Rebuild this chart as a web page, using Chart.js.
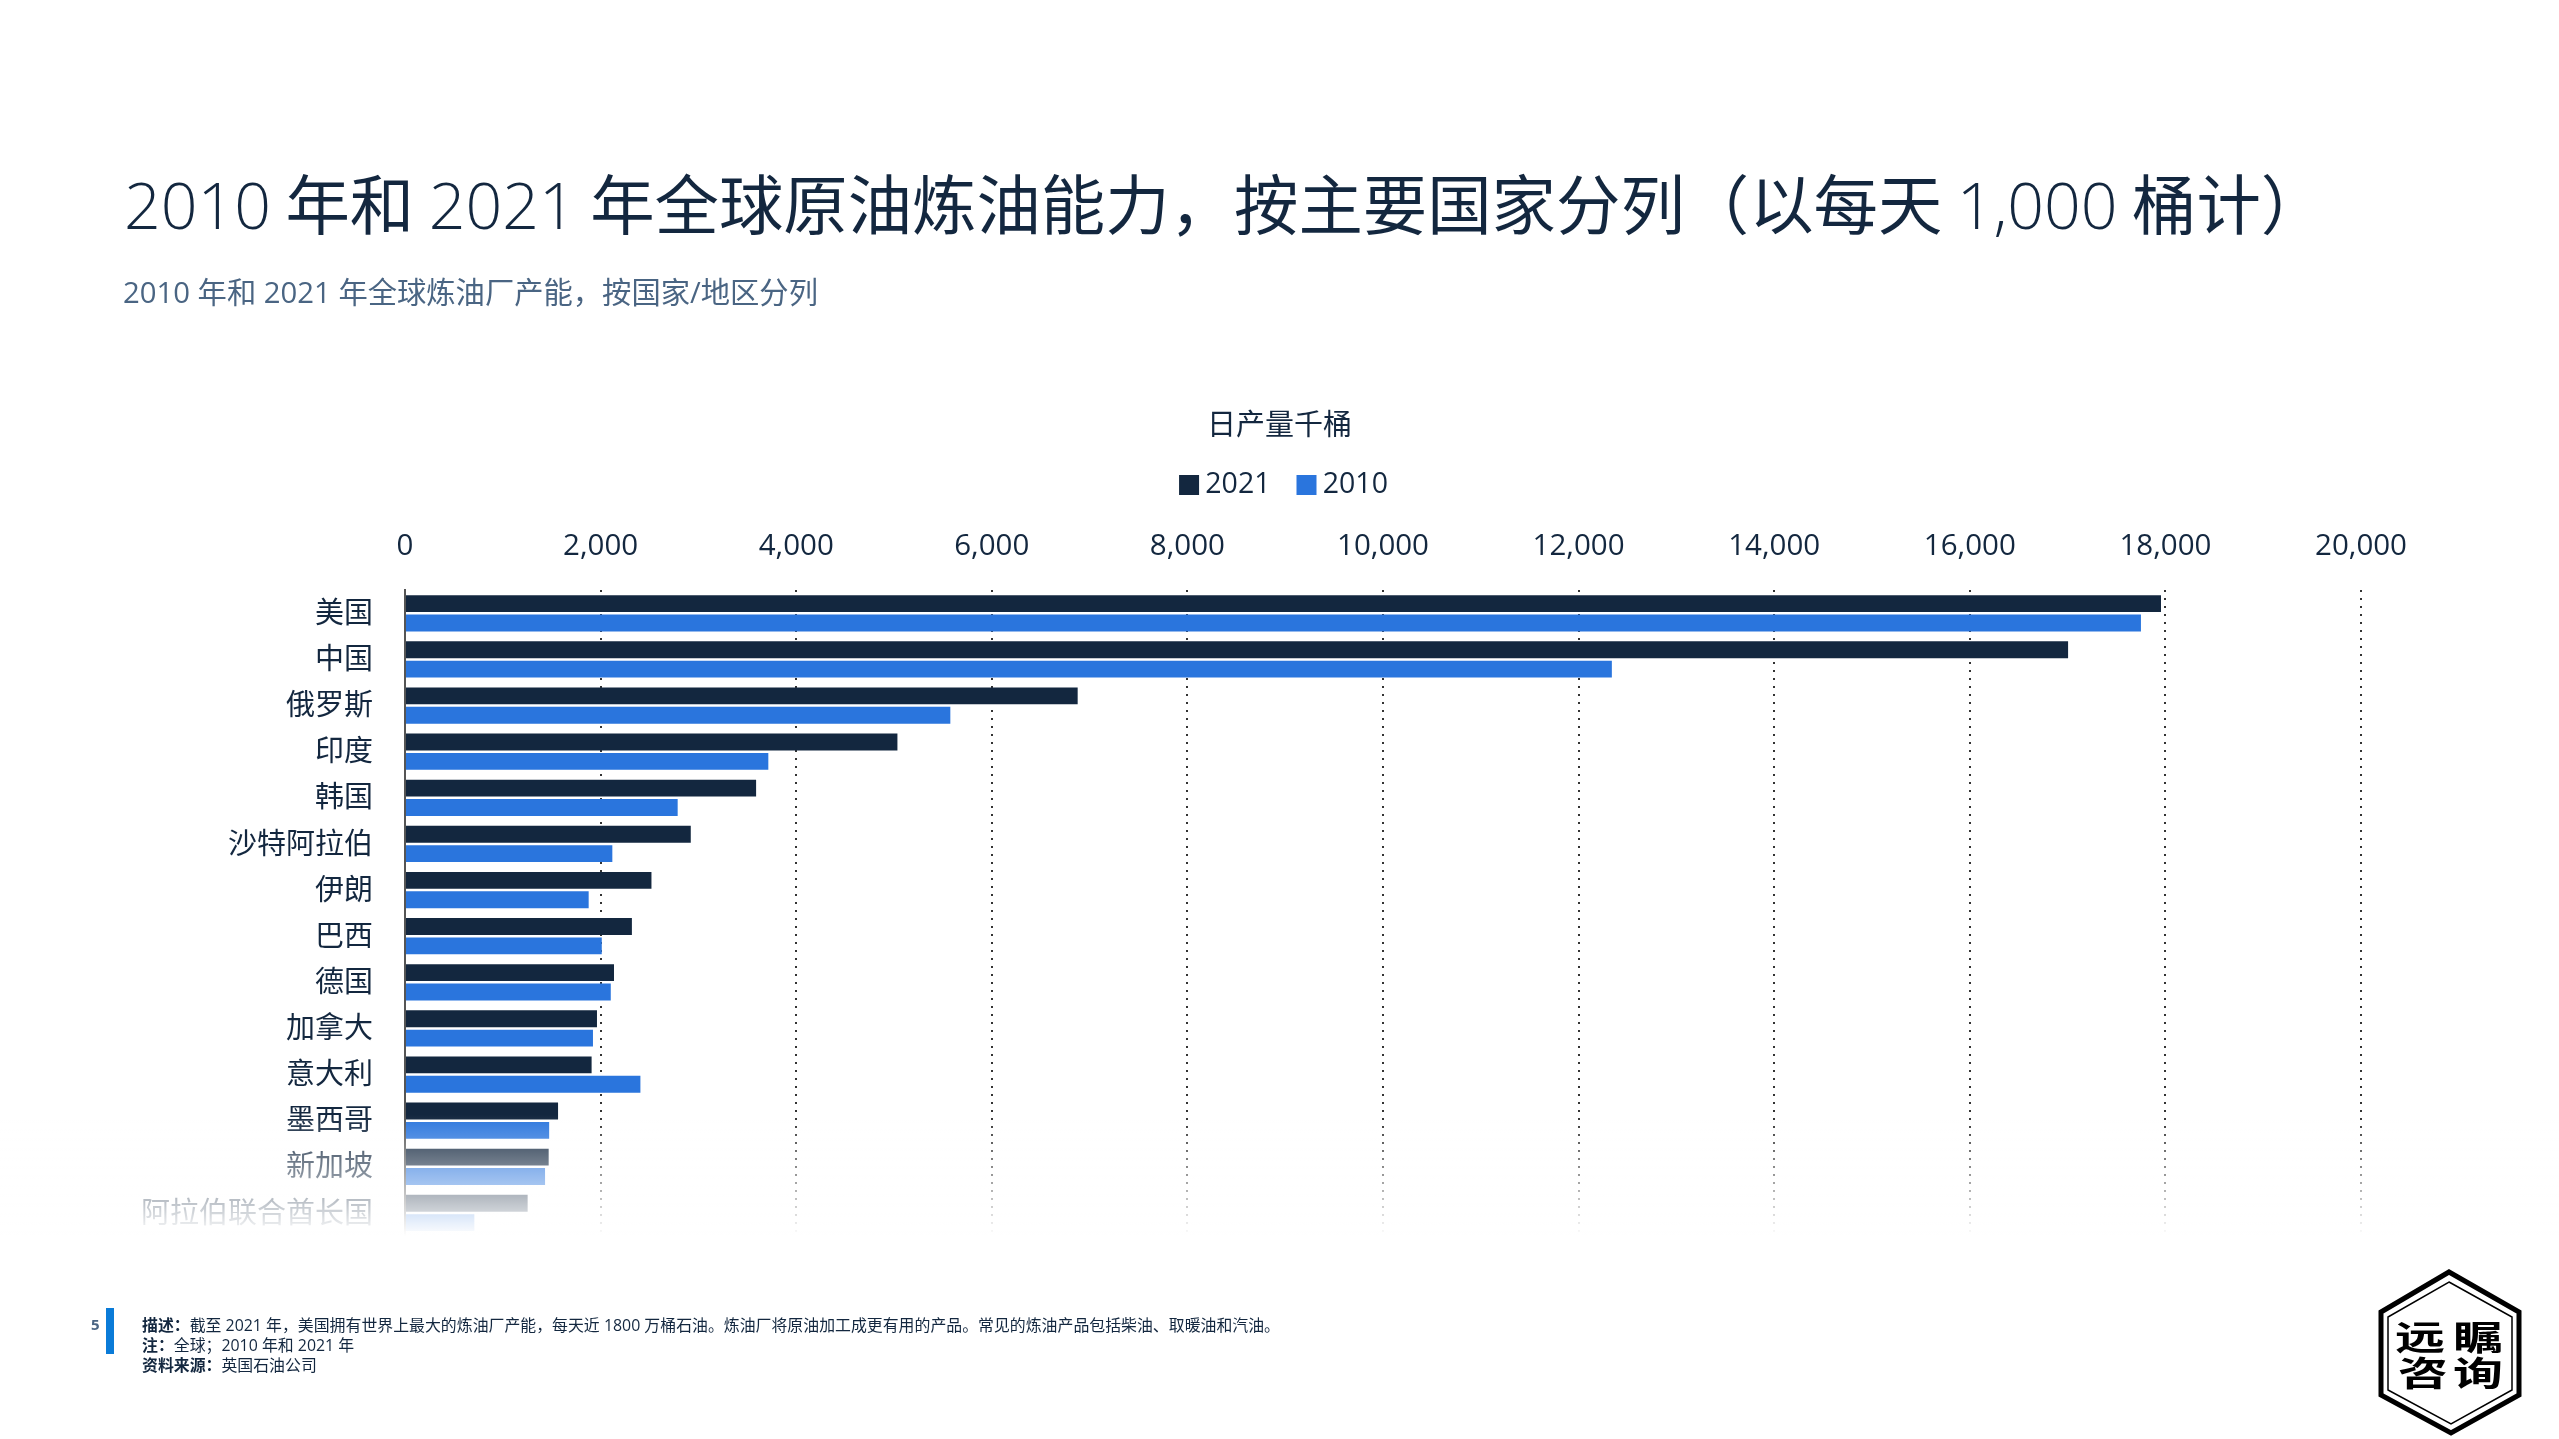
<!DOCTYPE html>
<html lang="zh">
<head>
<meta charset="utf-8">
<title>全球原油炼油能力</title>
<script src="https://cdn.jsdelivr.net/npm/chart.js@4/dist/chart.umd.min.js"></script>
<style>
   html, body { margin: 0; padding: 0; background: #fff; }
   #page { position: relative; width: 2559px; height: 1439px; overflow: hidden; font-family: "Noto Sans CJK SC", "Open Sans", sans-serif; color: #13273f; }
   #chartBox { position: absolute; left: 0; top: 0; width: 2559px; height: 1439px; }
   .num { font-family: "Open Sans", sans-serif; font-weight: 300; }
   h1 { position: absolute; left: 124px; top: 153px; margin: 0; font-size: 64.4px; line-height: 96px; font-weight: 400; white-space: nowrap; }
   h2 { position: absolute; left: 123px; top: 272px; margin: 0; font-size: 29.3px; line-height: 40px; font-weight: 400; color: #4a6583; white-space: nowrap; font-family: "Open Sans", "Noto Sans CJK SC", sans-serif; }
   #pageNo { position: absolute; left: 91px; top: 1314px; font-size: 15px; line-height: 20px; font-weight: 700; color: #4a6583; font-family: "Open Sans", sans-serif; }
   #bar { position: absolute; left: 106px; top: 1308px; width: 8px; height: 46px; background: #0a7bd8; }
   #notes { position: absolute; left: 142px; top: 1315px; font-size: 15.9px; line-height: 20px; white-space: nowrap; color: #13273f; font-family: "Open Sans", "Noto Sans CJK SC", sans-serif; }
   #notes b { font-weight: 700; }
   #logo { position: absolute; left: 2360px; top: 1260px; }
</style>
</head>
<body>
<div id="page">
   <div id="chartBox"><canvas id="myChart"></canvas></div>
   <h1><span class="num">2010</span> 年和 <span class="num">2021</span> 年全球原油炼油能力，按主要国家分列（以每天 <span class="num">1,000</span> 桶计）</h1>
   <h2>2010 年和 2021 年全球炼油厂产能，按国家/地区分列</h2>
   <div id="pageNo">5</div>
   <div id="bar"></div>
   <div id="notes">
      <div><b>描述：</b>截至 2021 年，美国拥有世界上最大的炼油厂产能，每天近 1800 万桶石油。炼油厂将原油加工成更有用的产品。常见的炼油产品包括柴油、取暖油和汽油。</div>
      <div><b>注：</b>全球；2010 年和 2021 年</div>
      <div><b>资料来源：</b>英国石油公司</div>
   </div>
   <svg id="logo" width="199" height="179" viewBox="0 0 199 179">
      <polygon points="89,12 159,52 159,135 91,173 21,135 21,52" fill="none" stroke="#000" stroke-width="5"/>
      <polygon points="89,22 152,57 152,130 91,164 28,130 28,57" fill="none" stroke="#000" stroke-width="1.5"/>
      <g font-family="Noto Sans CJK SC" font-weight="700" font-size="50" text-anchor="middle" fill="#000">
         <text transform="translate(60,90) scale(1,0.68)">远</text>
         <text transform="translate(118,90) scale(1,0.68)">瞩</text>
         <text transform="translate(63,126) scale(1,0.68)">咨</text>
         <text transform="translate(118,126) scale(1,0.68)">询</text>
      </g>
   </svg>
</div>
<script>
"use strict";

const countries = ["美国", "中国", "俄罗斯", "印度", "韩国", "沙特阿拉伯", "伊朗", "巴西", "德国", "加拿大", "意大利", "墨西哥", "新加坡", "阿拉伯联合酋长国"];
const values2021 = [17955, 17005, 6878, 5035, 3590, 2922, 2520, 2320, 2137, 1963, 1908, 1565, 1469, 1254];
const values2010 = [17750, 12340, 5576, 3715, 2788, 2120, 1878, 2012, 2104, 1922, 2407, 1474, 1432, 709];
const seriesNames = ["2021", "2010"];
const axisTitle = "日产量千桶";

const darkColor = "#13273f";
const blueColor = "#2a75dd";

// white fade over the last rows, like the cut-off list in the original
const fadeBottom = {
   id: "fadeBottom",
   afterDraw(chart) {
      const c = chart.ctx;
      const g = c.createLinearGradient(0, 1115, 0, 1236);
      g.addColorStop(0, "rgba(255,255,255,0)");
      g.addColorStop(1, "rgba(255,255,255,1)");
      c.save();
      c.fillStyle = g;
      c.fillRect(0, 1115, chart.width, 125);
      c.restore();
   },
};

// nudge the legend, its spacing can't be set apart from the title
const moveLegend = {
   id: "moveLegend",
   afterLayout(chart) {
      chart.legend.top -= 5;
      chart.legend.bottom -= 5;
      chart.legend.left += 8;
      chart.legend.right += 8;
   },
};

const ctx = document.getElementById("myChart").getContext("2d");
const myChart = new Chart(ctx, {
   type: "bar",
   data: {
      labels: countries,
      datasets: [
         { label: seriesNames[0], data: values2021, backgroundColor: darkColor, yAxisID: "y" },
         { label: seriesNames[1], data: values2010, backgroundColor: blueColor, yAxisID: "y" },
      ],
   },
   plugins: [fadeBottom, moveLegend],
   options: {
      indexAxis: "y",
      responsive: true,
      maintainAspectRatio: false,
      animation: false,
      devicePixelRatio: 1,
      categoryPercentage: 0.84,
      barPercentage: 0.87,
      layout: { padding: { top: 407, right: 0, bottom: 203, left: 0 } },
      plugins: {
         title: {
            display: true,
            text: axisTitle,
            color: darkColor,
            font: { family: "Noto Sans CJK SC", size: 29, weight: "400" },
            padding: { top: 0, bottom: 0 },
         },
         legend: {
            position: "top",
            labels: {
               usePointStyle: true,
               pointStyle: "rect",
               boxWidth: 4,
               boxHeight: 20,
               padding: 34,
               color: darkColor,
               font: { family: "Open Sans", size: 28.5 },
            },
         },
         tooltip: { enabled: false },
      },
      scales: {
         x: {
            position: "top",
            min: 0,
            max: 20000,
            ticks: {
               stepSize: 2000,
               padding: 26,
               color: darkColor,
               font: { family: "Open Sans", size: 29.5 },
               maxRotation: 0,
               callback: (v) => v.toLocaleString("en-US"),
            },
            grid: { color: "#333", lineWidth: 2, drawTicks: false },
            border: { display: false, dash: [2, 6] },
            afterFit(scale) { scale.height = 76; },
         },
         y: {
            grid: { display: false, drawTicks: false },
            border: { display: true, color: "#555", width: 2 },
            ticks: {
               padding: 32,
               labelOffset: 2,
               color: darkColor,
               font: { family: "serif, Noto Sans CJK SC", size: 29 },
               autoSkip: false,
            },
            afterFit(scale) { scale.width = 405; },
         },
         // empty right-hand axis keeps the margin but leaves title and legend centred on the page
         spacer: {
            axis: "y",
            type: "category",
            position: "right",
            grid: { display: false, drawTicks: false },
            border: { display: false },
            ticks: { display: false },
            afterFit(scale) { scale.width = 198; },
         },
      },
   },
});
</script>
</body>
</html>
